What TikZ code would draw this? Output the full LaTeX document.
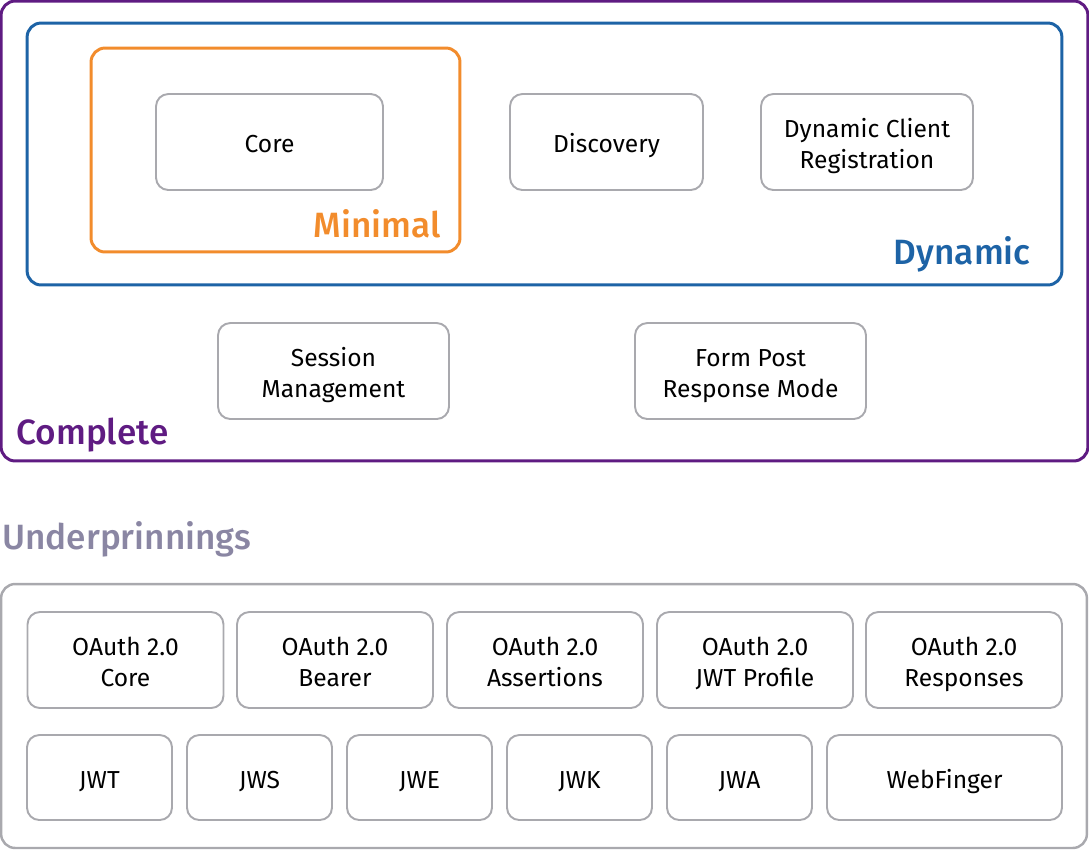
\documentclass[tikz,border=0pt]{standalone}
\usepackage{fontspec}
\setmainfont{Fira Sans}
\newfontfamily\titlefont{Fira Sans Medium}
\usetikzlibrary{positioning}

\definecolor{cplpurple}{HTML}{5F1B82}
\definecolor{dynblue}{HTML}{1D63A6}
\definecolor{minorange}{HTML}{F28C2C}
\definecolor{specgray}{HTML}{A9A9AE}
\definecolor{undergray}{HTML}{8A86A3}

\begin{document}
\begin{tikzpicture}[
    x=0.02cm, y=-0.02cm,
    spec/.style={draw=specgray, line width=1.1pt, rounded corners=7pt,
                 minimum height=1.92cm, align=center, font=\fontsize{14}{17.5}\selectfont,
                 inner sep=0pt, text height=12pt, text depth=0pt},
    spectwo/.style={spec, text height=31pt, text depth=0.6pt},
    group/.style={draw, line width=1.7pt, rounded corners=8pt, inner sep=0pt},
    title/.style={font=\titlefont\fontsize{20}{22}\selectfont, inner sep=0pt}
]
    \useasboundingbox (0,0) rectangle (1089,850);

    % profile containers
    \node[group, draw=cplpurple, minimum width=21.74cm, minimum height=9.2cm] (complete) at (544.5,231) {};
    \node[group, draw=dynblue, minimum width=20.7cm, minimum height=5.24cm] (dynamic) at (544.5,154) {};
    \node[group, draw=minorange, minimum width=7.38cm, minimum height=4.08cm] (minimal) at (275.5,150) {};

    \node[title, text=minorange, anchor=base east] (minlabel) at (441,237) {Minimal};
    \node[title, text=dynblue, anchor=base east] (dynlabel) at (1031,264) {Dynamic};
    \node[title, text=cplpurple, anchor=base west] (cpllabel) at (16,444) {Complete};

    % specs inside the profiles
    \node[spec, minimum width=4.54cm] (core) at (269.5,142) {Core};
    \node[spec, minimum width=3.86cm] (discovery) at (606.5,142) {Discovery};
    \node[spectwo, minimum width=4.24cm] (dcr) at (867,142) {Dynamic Client\\Registration};
    \node[spectwo, minimum width=4.62cm] (session) at (333.5,371) {Session\\Management};
    \node[spectwo, minimum width=4.62cm] (formpost) at (750.5,371) {Form Post\\Response Mode};

    % underpinnings
    \node[title, text=undergray, anchor=base west] (underlabel) at (2,549) {Underprinnings};
    \node[group, draw=specgray, line width=1.4pt, minimum width=21.72cm, minimum height=5.28cm] (under) at (544,716) {};

    \node[spectwo, minimum width=3.92cm] (oacore) at (125.5,660) {OAuth 2.0\\Core};
    \node[spectwo, minimum width=3.92cm] (oabearer) at (335,660) {OAuth 2.0\\Bearer};
    \node[spectwo, minimum width=3.92cm] (oaassert) at (545,660) {OAuth 2.0\\Assertions};
    \node[spectwo, minimum width=3.92cm] (oajwt) at (755,660) {OAuth 2.0\\JWT Profile};
    \node[spectwo, minimum width=3.92cm] (oaresp) at (964,660) {OAuth 2.0\\Responses};

    \node[spec, minimum width=2.9cm, minimum height=1.7cm] (jwt) at (99.5,777.5) {JWT};
    \node[spec, minimum width=2.9cm, minimum height=1.7cm] (jws) at (259.5,777.5) {JWS};
    \node[spec, minimum width=2.9cm, minimum height=1.7cm] (jwe) at (419.5,777.5) {JWE};
    \node[spec, minimum width=2.9cm, minimum height=1.7cm] (jwk) at (579.5,777.5) {JWK};
    \node[spec, minimum width=2.9cm, minimum height=1.7cm] (jwa) at (739.5,777.5) {JWA};
    \node[spec, minimum width=4.7cm, minimum height=1.7cm] (webfinger) at (944.5,777.5) {WebFinger};
\end{tikzpicture}
\end{document}
